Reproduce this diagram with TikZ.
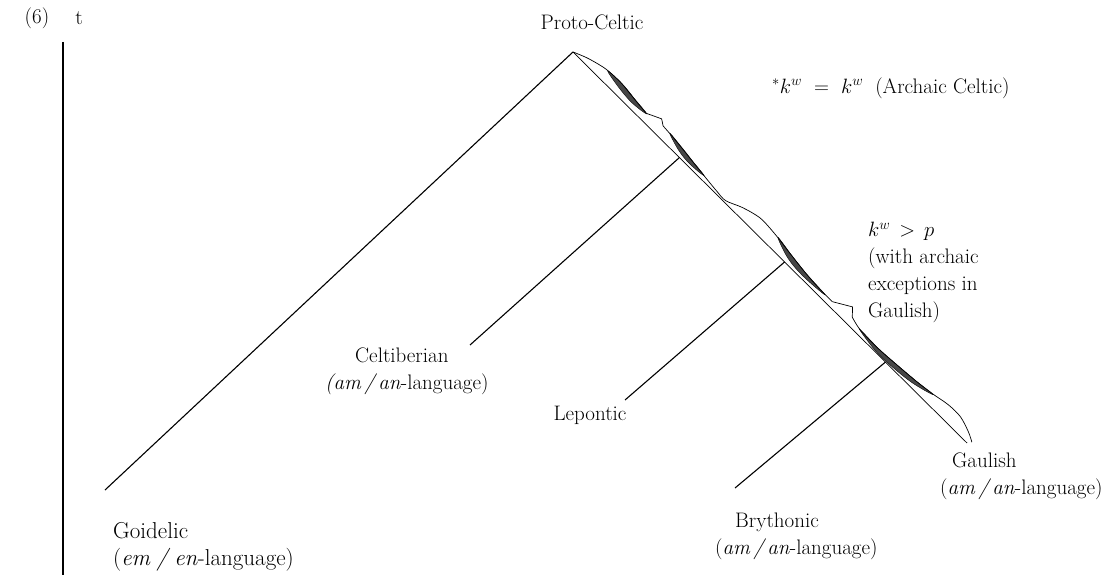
\documentclass[tikz,border=0pt]{standalone}
\usetikzlibrary{calc}
\tikzset{
  lbl/.style={font=\fontsize{21}{27}\selectfont, inner sep=0pt, text=black},
  branch/.style={line width=1.1pt, draw=black},
  trunkline/.style={line width=0.7pt, draw=black},
  wave/.style={line width=0.7pt, draw=black},
  lens/.style={fill=black!72, draw=black, line width=0.35pt},
  axisline/.style={line width=1.4pt, draw=black},
}
\begin{document}
\begin{tikzpicture}[x=1pt,y=-1pt]
\useasboundingbox (0,0) rectangle (1105,575);

% axis
\node[lbl] (six) at (37,18) {(6)};
\node[lbl] (t) at (79,18) {t};
\coordinate (axtop) at (63,42);
\coordinate (axbot) at (63,575);
\draw[axisline] (axtop) -- (axbot);

% tree coordinates
\coordinate (A) at (573,52);
\coordinate (E) at (967,443);
\coordinate (jC) at ($(A)!0.27!(E)$);
\coordinate (jL) at ($(A)!0.537!(E)$);
\coordinate (jB) at ($(A)!0.793!(E)$);
\coordinate (eG) at (105,490);
\coordinate (eC) at (470,345);
\coordinate (eL) at (625,400);
\coordinate (eB) at (735,488);

\draw[branch] (A) -- (eG);
\draw[trunkline] (A) -- (E);
\draw[branch] (jC) -- (eC);
\draw[branch] (jL) -- (eL);
\draw[branch] (jB) -- (eB);

% hand-drawn wavy band along the trunk (local frame: s along trunk, d outward)
\begin{scope}[shift={(A)}, x={(0.7098pt,-0.7044pt)}, y={(0.7044pt,0.7098pt)}]
  \fill[lens] plot[smooth cycle, tension=0.6] coordinates {(38,11) (58,12) (78,10) (96,8) (78,5.5) (58,7)};
  \fill[lens] plot[smooth cycle, tension=0.6] coordinates {(126,10.5) (145,8.8) (162,6.8) (180,4.6) (162,2.8) (145,4.5)};
  \fill[lens] plot[smooth cycle, tension=0.6] coordinates {(276,12.8) (298,9.8) (322,7) (350,5.2) (322,3) (298,5)};
  \fill[lens] plot[smooth cycle, tension=0.6] coordinates {(398,5.2) (425,4.7) (450,6.2) (475,8.2) (497,10.5) (475,4.4) (450,1.5) (425,1)};
  \draw[wave] plot[smooth, tension=0.5] coordinates {(0,0) (15,6) (35,11) (55,12) (75,10) (95,8)};
  \draw[wave] (95,8) -- (110,15) -- (116,11);
  \draw[wave] plot[smooth, tension=0.5] coordinates {(116,11) (130,10) (145,8.5) (162,6.5) (180,4.5) (200,2.5) (213,2) (230,9) (250,14) (272,13) (295,10) (320,7) (342,5.5) (360,5.5)};
  \draw[wave] (360,5.5) -- (378,16) -- (385,8.5);
  \draw[wave] plot[smooth, tension=0.5] coordinates {(385,8.5) (400,5) (425,4.5) (450,6) (475,8) (495,10.5) (515,14) (532,14) (548,9) (558,4)};
\end{scope}

% labels
\node[lbl] (proto) at (592,22) {Proto-Celtic};
\node[lbl, anchor=west] (archaic) at (772,88) {$^{*}k^{w}$\hspace{12pt}$=$\hspace{12pt}$k^{w}$\hspace{12pt}(Archaic Celtic)};
\node[lbl, anchor=north west, align=left] (kp) at (868,222) {$k^{w}$\hspace{9pt}$\mathbf{>}$\hspace{9pt}$p$\\(with archaic\\exceptions in\\Gaulish)};
\node[lbl, anchor=north west, align=left] (celt) at (325,348) {\hspace*{30pt}Celtiberian\\\textit{(am\,/\,an}-language)};
\node[lbl] (lep) at (590,415) {Lepontic};
\node[lbl, anchor=north west, align=left] (gaul) at (940,453) {\hspace*{12pt}Gaulish\\(\textit{am\,/\,an}-language)};
\node[lbl, anchor=north west, align=left] (bry) at (715,513) {\hspace*{20pt}Brythonic\\(\textit{am\,/\,an}-language)};
\node[lbl, anchor=north west, align=left, font=\fontsize{23}{27}\selectfont] (goi) at (113,522) {Goidelic\\(\textit{em\;/\;en}-language)};
\end{tikzpicture}
\end{document}
